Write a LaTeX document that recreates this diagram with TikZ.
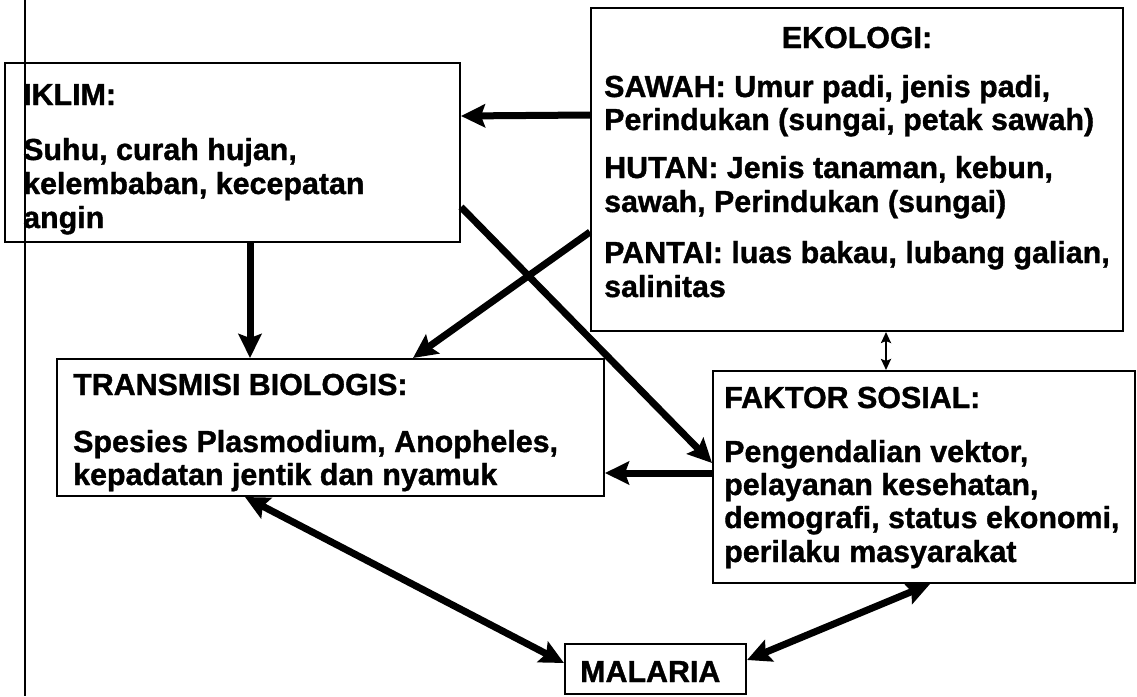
\documentclass[tikz,border=0pt]{standalone}
\usepackage{fontspec}
\setmainfont{Liberation Sans}[BoldFeatures={FakeBold=1.2}]
\usetikzlibrary{arrows.meta,fit}
\begin{document}
\begin{tikzpicture}[x=1pt,y=-1pt,
  box/.style={draw, line width=2pt, inner sep=0pt},
  txt/.style={anchor=base west, inner sep=0pt, font=\fontsize{30.4}{34}\selectfont\bfseries},
  bighead/.tip={Stealth[length=24pt,width=23pt,inset=4pt]},
  smallhead/.tip={Stealth[length=11pt,width=10pt,inset=2pt]},
  bigarrow/.style={line width=7pt, -bighead},
  dbigarrow/.style={line width=7pt, bighead-bighead},
  thinarrow/.style={line width=2.5pt, smallhead-smallhead}]
\useasboundingbox (0,0) rectangle (1137,696);
% left page line
\coordinate (lt) at (25,0);
\coordinate (lb) at (25,696);
\draw[line width=2pt] (lt) -- (lb);
% boxes
\node[box, fit={(5,63) (460,242)}] (iklim) {};
\node[box, fit={(591,8) (1123,331)}] (ekologi) {};
\node[box, fit={(57,359) (604,496)}] (trans) {};
\node[box, fit={(713,371) (1135,583)}] (faktor) {};
\node[box, fit={(565,644) (746,694)}] (malaria) {};
% IKLIM text
\node[txt] (i1) at (23,105) {IKLIM:};
\node[txt] (i2) at (23,160) {Suhu, curah hujan,};
\node[txt] (i3) at (23,194) {kelembaban, kecepatan};
\node[txt] (i4) at (23,228) {angin};
% EKOLOGI text
\node[txt, anchor=base] (e0) at (857,48) {EKOLOGI:};
\node[txt] (e1) at (604,97) {SAWAH: Umur padi, jenis padi,};
\node[txt] (e2) at (604,130) {Perindukan (sungai, petak sawah)};
\node[txt] (e3) at (604,178) {HUTAN: Jenis tanaman, kebun,};
\node[txt] (e4) at (604,212) {sawah, Perindukan (sungai)};
\node[txt] (e5) at (604,263) {PANTAI: luas bakau, lubang galian,};
\node[txt] (e6) at (604,297) {salinitas};
% TRANSMISI text
\node[txt] (t1) at (73,395) {TRANSMISI BIOLOGIS:};
\node[txt] (t2) at (73,452) {Spesies Plasmodium, Anopheles,};
\node[txt] (t3) at (73,485) {kepadatan jentik dan nyamuk};
% FAKTOR text
\node[txt] (f1) at (724,408) {FAKTOR SOSIAL:};
\node[txt] (f2) at (724,462) {Pengendalian vektor,};
\node[txt] (f3) at (724,495) {pelayanan kesehatan,};
\node[txt] (f4) at (724,528) {demografi, status ekonomi,};
\node[txt] (f5) at (724,562) {perilaku masyarakat};
% MALARIA text
\node[txt] (m1) at (580,682) {MALARIA};
% connectors
\draw[bigarrow] (ekologi.west |- 0,115) -- (iklim.east |- 0,116);
\draw[bigarrow] (iklim.south -| 250,0) -- (trans.north -| 250,0);
\draw[bigarrow] (iklim.east |- 0,207) -- (faktor.west |- 0,463);
\draw[bigarrow] (ekologi.west |- 0,232) -- (trans.north -| 413,0);
\draw[bigarrow] (faktor.west |- 0,473) -- (trans.east |- 0,473);
\draw[thinarrow] (ekologi.south -| 886,0) -- (faktor.north -| 886,0);
\draw[dbigarrow] (trans.south -| 245,0) -- (malaria.west |- 0,663);
\draw[dbigarrow] (faktor.south -| 930,0) -- (malaria.east |- 0,660);
\end{tikzpicture}
\end{document}
